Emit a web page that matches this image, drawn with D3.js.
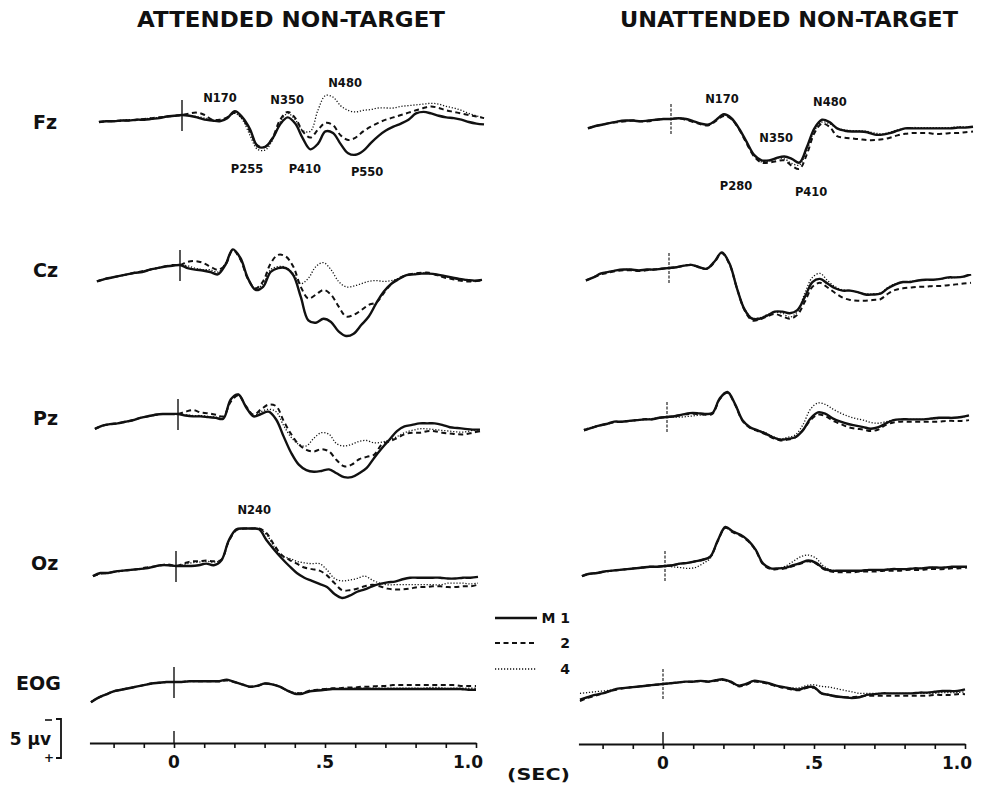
<!DOCTYPE html>
<html>
<head>
<meta charset="utf-8">
<script src="https://cdn.jsdelivr.net/npm/d3@7/dist/d3.min.js"></script>
<style>
  body { margin: 0; background: #fff; }
  text { font-family: "DejaVu Sans", "Liberation Sans", sans-serif; font-weight: bold; fill: #111; }
</style>
</head>
<body>
<svg id="chart" width="981" height="786"></svg>
<script>
// Sample times (s) relative to stimulus onset
const time = [-0.275, -0.25, -0.225, -0.2, -0.175, -0.15, -0.125, -0.1, -0.075, -0.05, -0.025, 0,
  0.025, 0.05, 0.075, 0.1, 0.125, 0.15, 0.175, 0.2, 0.225, 0.25,
  0.275, 0.3, 0.325, 0.35, 0.375, 0.4, 0.425, 0.45, 0.475, 0.5,
  0.525, 0.55, 0.575, 0.6, 0.625, 0.65, 0.675, 0.7, 0.725, 0.75,
  0.775, 0.8, 0.825, 0.85, 0.875, 0.9, 0.925, 0.95, 0.975, 1.0];

// Amplitudes in µV (negative = up). Attended non-target.
const fzAttM1 = [0.9, 0.8, 0.8, 0.7, 0.7, 0.6, 0.6, 0.5, 0.4, 0.2, 0.1, 0.0,
  0.1, 0.3, 0.6, 0.7, 0.8, 0.4, -0.5, 0.3, 1.8, 4.0,
  4.1, 3.0, 1.2, 0.3, 1.1, 3.0, 4.4, 3.7, 2.1, 2.3,
  3.7, 4.9, 5.1, 4.6, 3.6, 2.7, 2.0, 1.5, 1.1, 0.6,
  -0.2, -0.4, -0.2, 0.1, 0.3, 0.4, 0.6, 0.9, 1.1, 1.2];
const fzAttM2 = [0.9, 0.8, 0.8, 0.7, 0.7, 0.6, 0.5, 0.4, 0.3, 0.2, 0.1, 0.0,
  -0.2, -0.3, 0.0, 0.6, 0.6, 0.3, -0.3, 0.4, 2.1, 3.9,
  4.1, 2.9, 0.6, -0.4, 0.4, 2.1, 2.9, 1.9, 1.0, 1.3,
  2.6, 3.2, 2.9, 2.1, 1.5, 1.0, 0.6, 0.3, 0.0, -0.3,
  -0.6, -0.9, -1.1, -0.9, -0.6, -0.4, -0.2, 0.0, 0.2, 0.4];
const fzAttM4 = [0.9, 0.8, 0.8, 0.7, 0.6, 0.6, 0.5, 0.4, 0.3, 0.2, 0.1, 0.0,
  0.1, 0.2, 0.4, 0.6, 0.8, 0.3, -0.2, 0.6, 2.6, 4.4,
  4.5, 3.2, 0.9, -0.2, 0.6, 2.0, 2.1, -0.6, -2.5, -2.3,
  -1.2, -0.6, -0.4, -0.6, -0.7, -0.9, -0.9, -0.9, -1.1, -1.2,
  -1.3, -1.4, -1.5, -1.4, -1.1, -0.9, -0.6, -0.2, 0.1, 0.4];

const czAttM1 = [2.1, 1.8, 1.6, 1.4, 1.2, 1.0, 0.9, 0.6, 0.4, 0.2, 0.1, 0.0,
  0.4, 0.6, 0.7, 0.9, 1.2, 0.0, -2.0, -0.9, 1.7, 3.2,
  2.8, 0.9, 0.4, 0.4, 1.3, 4.1, 7.1, 7.4, 6.9, 7.3,
  8.5, 9.1, 8.8, 7.7, 6.6, 4.9, 3.4, 2.4, 1.8, 1.3,
  1.2, 1.1, 1.1, 1.2, 1.4, 1.6, 1.8, 1.9, 2.0, 1.9];
const czAttM2 = [2.1, 1.8, 1.6, 1.4, 1.2, 1.0, 0.8, 0.6, 0.4, 0.2, 0.0, 0.0,
  -0.4, -0.5, -0.3, 0.2, 0.6, 0.0, -1.9, -0.7, 1.8, 3.0,
  2.1, -0.2, -1.3, -1.1, 0.2, 2.8, 4.3, 3.8, 3.2, 3.8,
  5.3, 6.6, 6.4, 5.8, 5.1, 4.8, 3.6, 2.4, 1.7, 1.3,
  1.1, 1.0, 1.0, 1.3, 1.6, 1.8, 2.0, 2.1, 2.1, 2.0];
const czAttM4 = [2.1, 1.8, 1.6, 1.4, 1.2, 1.0, 0.9, 0.6, 0.4, 0.2, 0.1, 0.0,
  0.1, 0.4, 0.6, 0.6, 0.9, -0.2, -1.9, -0.7, 1.8, 3.0,
  2.4, 0.6, 0.2, 0.3, 1.1, 2.4, 1.7, 0.2, -0.3, 0.6,
  2.1, 2.8, 2.7, 2.4, 2.1, 2.0, 2.1, 2.0, 1.7, 1.3,
  1.1, 1.0, 1.1, 1.3, 1.5, 1.7, 1.9, 2.0, 2.1, 2.0];

const pzAttM1 = [1.9, 1.5, 1.3, 1.2, 1.0, 0.8, 0.5, 0.3, 0.1, 0.0, 0.0, 0.0,
  0.2, 0.3, 0.3, 0.4, 0.5, 0.6, -1.9, -2.5, -0.9, 0.3,
  0.0, -0.3, 0.7, 2.9, 5.0, 6.5, 7.2, 7.4, 7.3, 7.1,
  7.6, 8.1, 8.1, 7.6, 6.9, 5.6, 4.4, 3.3, 2.2, 1.6,
  1.4, 1.2, 1.2, 1.2, 1.4, 1.7, 1.8, 1.9, 2.0, 2.0];
const pzAttM2 = [1.9, 1.5, 1.3, 1.2, 1.0, 0.8, 0.5, 0.3, 0.1, 0.0, 0.0, 0.0,
  -0.3, -0.5, -0.2, -0.1, 0.1, 0.3, -1.6, -2.4, -1.0, 0.1,
  -0.6, -1.2, -1.0, 0.9, 2.6, 3.9, 4.6, 4.8, 4.5, 4.8,
  5.9, 6.7, 6.5, 5.8, 5.5, 5.2, 3.9, 3.5, 3.1, 2.6,
  2.4, 2.4, 2.2, 2.2, 2.4, 2.5, 2.6, 2.6, 2.4, 2.2];
const pzAttM4 = [1.9, 1.5, 1.3, 1.2, 1.0, 0.8, 0.5, 0.3, 0.1, 0.0, 0.0, 0.0,
  0.1, 0.2, 0.2, 0.3, 0.4, 0.5, -1.8, -2.5, -1.0, 0.2,
  -0.3, -0.6, -0.3, 1.5, 3.0, 3.9, 4.1, 3.1, 2.4, 2.6,
  3.8, 4.1, 3.9, 3.5, 3.4, 3.7, 3.6, 3.3, 2.9, 2.4,
  2.1, 1.9, 1.9, 2.0, 2.1, 2.2, 2.3, 2.3, 2.1, 2.0];

const ozAttM1 = [1.3, 0.9, 0.9, 0.7, 0.6, 0.5, 0.4, 0.3, 0.1, -0.1, -0.1, 0.0,
  0.0, 0.0, -0.1, -0.3, -0.1, -0.7, -3.3, -4.7, -4.8, -4.8,
  -4.7, -3.3, -2.1, -1.0, 0.0, 0.9, 1.5, 1.9, 2.3, 2.7,
  3.6, 4.1, 3.8, 3.3, 3.0, 2.6, 2.3, 2.1, 2.0, 1.7,
  1.5, 1.5, 1.5, 1.5, 1.5, 1.6, 1.6, 1.5, 1.5, 1.4];
const ozAttM2 = [1.3, 1.0, 0.9, 0.7, 0.6, 0.5, 0.4, 0.2, 0.1, -0.1, -0.2, 0.0,
  -0.3, -0.6, -0.6, -0.7, -0.6, -0.8, -3.2, -4.6, -4.8, -4.8,
  -4.8, -4.2, -2.7, -1.4, -0.8, -0.3, 0.2, 0.4, 0.6, 1.2,
  2.2, 3.1, 3.1, 2.9, 2.6, 2.4, 2.6, 2.9, 3.0, 3.0,
  2.9, 2.7, 2.7, 2.6, 2.6, 2.7, 2.7, 2.6, 2.6, 2.4];
const ozAttM4 = [1.3, 0.9, 0.9, 0.7, 0.6, 0.5, 0.4, 0.3, 0.1, -0.1, -0.1, 0.0,
  -0.2, -0.4, -0.5, -0.6, -0.5, -0.8, -3.2, -4.6, -4.8, -4.8,
  -4.8, -4.0, -2.5, -1.3, -1.0, -0.6, -0.4, -0.3, -0.3, 0.5,
  1.6, 1.9, 1.8, 1.6, 1.3, 1.8, 2.2, 2.4, 2.4, 2.4,
  2.4, 2.4, 2.4, 2.4, 2.4, 2.2, 2.2, 2.2, 2.3, 2.2];

const eogAttM1 = [2.6, 2.0, 1.6, 1.2, 1.0, 0.8, 0.6, 0.4, 0.2, 0.1, 0.0, 0.0,
  0.0, -0.1, -0.1, -0.1, -0.1, -0.1, -0.3, 0.0, 0.3, 0.6,
  0.5, 0.2, 0.3, 0.6, 1.1, 1.5, 1.5, 1.2, 1.1, 1.0,
  0.9, 0.9, 0.9, 0.9, 0.9, 0.9, 0.9, 0.9, 0.9, 0.9,
  0.9, 0.9, 0.9, 0.9, 0.9, 0.9, 0.9, 0.9, 1.0, 1.0];
const eogAttM2 = [2.6, 2.0, 1.6, 1.2, 1.0, 0.8, 0.6, 0.4, 0.2, 0.1, 0.0, 0.0,
  0.0, -0.1, -0.1, -0.1, -0.1, -0.1, -0.2, 0.0, 0.3, 0.6,
  0.5, 0.2, 0.3, 0.6, 1.1, 1.4, 1.4, 1.1, 1.0, 0.9,
  0.8, 0.8, 0.7, 0.7, 0.6, 0.6, 0.5, 0.5, 0.4, 0.4,
  0.4, 0.4, 0.4, 0.4, 0.4, 0.4, 0.4, 0.5, 0.5, 0.5];
const eogAttM4 = [2.5, 2.0, 1.6, 1.2, 1.0, 0.8, 0.6, 0.4, 0.2, 0.1, 0.0, 0.0,
  0.0, -0.1, -0.1, -0.1, -0.1, -0.1, -0.2, 0.0, 0.3, 0.6,
  0.5, 0.2, 0.3, 0.6, 1.1, 1.4, 1.4, 1.2, 1.0, 0.9,
  0.9, 0.9, 0.8, 0.8, 0.8, 0.8, 0.8, 0.8, 0.8, 0.8,
  0.8, 0.8, 0.8, 0.7, 0.7, 0.8, 0.8, 0.8, 0.8, 0.8];

// Unattended non-target.
const fzUnM1 = [1.2, 0.9, 0.7, 0.5, 0.3, 0.2, 0.2, 0.3, 0.2, 0.1, 0.0, 0.0,
  -0.1, 0.0, 0.3, 0.6, 0.7, 0.1, -0.6, -0.1, 1.2, 2.9,
  4.6, 5.3, 5.3, 5.0, 4.8, 5.1, 5.6, 3.6, 1.2, 0.1,
  0.4, 1.2, 1.5, 1.6, 1.6, 1.7, 2.0, 2.0, 1.8, 1.5,
  1.2, 1.2, 1.2, 1.2, 1.2, 1.2, 1.2, 1.1, 1.1, 1.0];
const fzUnM2 = [1.2, 0.9, 0.7, 0.5, 0.4, 0.3, 0.2, 0.3, 0.3, 0.1, 0.0, 0.0,
  -0.1, 0.1, 0.4, 0.7, 0.8, 0.2, -0.4, 0.0, 1.3, 3.1,
  4.8, 5.6, 5.6, 5.4, 5.3, 6.0, 6.4, 4.5, 1.8, 0.6,
  1.0, 2.2, 2.4, 2.5, 2.6, 2.7, 2.7, 2.6, 2.4, 2.1,
  1.9, 1.8, 1.8, 1.8, 1.9, 1.9, 1.8, 1.8, 1.7, 1.6];
const fzUnM4 = [1.1, 0.9, 0.7, 0.5, 0.3, 0.2, 0.2, 0.2, 0.2, 0.1, 0.0, 0.0,
  -0.1, 0.0, 0.3, 0.6, 0.7, 0.1, -0.5, 0.0, 1.3, 3.0,
  4.7, 5.5, 5.4, 5.0, 5.1, 5.7, 5.9, 4.0, 1.5, 0.4,
  0.6, 1.2, 1.4, 1.5, 1.5, 1.6, 1.8, 1.9, 1.7, 1.4,
  1.2, 1.1, 1.1, 1.1, 1.1, 1.1, 1.1, 1.0, 1.0, 1.0];

const czUnM1 = [1.6, 1.2, 0.7, 0.5, 0.3, 0.2, 0.2, 0.3, 0.2, 0.2, 0.1, 0.0,
  -0.1, -0.3, -0.4, -0.1, 0.1, -0.8, -2.0, -0.6, 2.6, 5.3,
  6.5, 6.5, 6.1, 5.6, 5.6, 5.8, 5.4, 3.7, 1.8, 1.4,
  2.0, 2.6, 2.9, 2.9, 3.1, 3.4, 3.4, 3.3, 2.6, 2.1,
  1.8, 1.8, 1.6, 1.5, 1.5, 1.4, 1.2, 1.2, 1.1, 0.8];
const czUnM2 = [1.6, 1.2, 0.8, 0.6, 0.4, 0.3, 0.3, 0.4, 0.3, 0.2, 0.1, 0.0,
  -0.1, -0.3, -0.4, -0.1, 0.1, -0.7, -1.9, -0.5, 2.6, 5.4,
  6.7, 6.6, 6.2, 5.9, 6.2, 6.5, 6.0, 4.3, 2.4, 1.9,
  2.5, 3.2, 3.8, 4.1, 4.2, 4.2, 4.1, 4.0, 3.3, 2.8,
  2.6, 2.5, 2.4, 2.4, 2.3, 2.3, 2.2, 2.1, 2.0, 1.9];
const czUnM4 = [1.6, 1.2, 0.7, 0.5, 0.3, 0.2, 0.2, 0.3, 0.2, 0.2, 0.1, 0.0,
  -0.1, -0.3, -0.4, -0.1, 0.1, -0.8, -2.0, -0.6, 2.5, 5.2,
  6.4, 6.4, 6.0, 5.7, 5.8, 6.3, 5.6, 3.2, 1.2, 0.7,
  1.6, 2.4, 2.8, 2.9, 3.1, 3.3, 3.3, 3.2, 2.5, 2.0,
  1.8, 1.7, 1.6, 1.5, 1.5, 1.4, 1.3, 1.2, 1.1, 0.9];

const pzUnM1 = [1.7, 1.4, 1.1, 0.9, 0.6, 0.6, 0.5, 0.4, 0.3, 0.3, 0.1, 0.0,
  -0.1, -0.3, -0.5, -0.5, -0.4, -0.5, -2.4, -3.2, -1.7, 0.4,
  1.3, 1.7, 2.1, 2.6, 2.9, 2.8, 2.6, 1.7, 0.2, -0.6,
  -0.4, 0.2, 0.6, 0.9, 1.1, 1.3, 1.5, 1.3, 0.8, 0.4,
  0.3, 0.3, 0.3, 0.3, 0.2, 0.1, 0.1, 0.1, 0.0, -0.2];
const pzUnM2 = [1.7, 1.4, 1.1, 0.9, 0.7, 0.6, 0.5, 0.4, 0.3, 0.3, 0.1, 0.0,
  -0.1, -0.3, -0.4, -0.4, -0.3, -0.4, -2.3, -3.1, -1.6, 0.5,
  1.4, 1.8, 2.2, 2.7, 3.0, 2.9, 2.6, 1.7, 0.4, -0.3,
  -0.1, 0.5, 0.9, 1.3, 1.5, 1.6, 1.8, 1.6, 1.0, 0.7,
  0.6, 0.6, 0.6, 0.6, 0.6, 0.6, 0.5, 0.5, 0.5, 0.4];
const pzUnM4 = [1.6, 1.3, 1.1, 0.9, 0.6, 0.6, 0.5, 0.4, 0.3, 0.2, 0.1, 0.0,
  0.0, 0.0, -0.1, -0.2, -0.3, -0.5, -2.4, -3.2, -1.7, 0.4,
  1.3, 1.7, 2.0, 2.5, 2.8, 2.6, 2.3, 1.0, -1.0, -1.8,
  -1.6, -1.0, -0.5, -0.1, 0.2, 0.4, 0.7, 0.8, 0.6, 0.4,
  0.3, 0.3, 0.3, 0.3, 0.2, 0.2, 0.1, 0.1, 0.0, -0.1];

const ozUnM1 = [1.3, 1.0, 0.9, 0.7, 0.6, 0.5, 0.4, 0.3, 0.2, 0.1, 0.1, 0.0,
  -0.1, -0.3, -0.4, -0.6, -0.8, -1.2, -3.3, -5.0, -4.4, -4.0,
  -3.3, -2.1, -0.3, 0.3, 0.3, 0.2, -0.1, -0.4, -0.7, -0.4,
  0.3, 0.6, 0.6, 0.6, 0.6, 0.6, 0.5, 0.5, 0.5, 0.4,
  0.4, 0.4, 0.3, 0.3, 0.2, 0.2, 0.2, 0.1, 0.1, 0.1];
const ozUnM2 = [1.3, 1.0, 0.9, 0.7, 0.6, 0.5, 0.4, 0.3, 0.2, 0.1, 0.1, 0.0,
  -0.1, -0.3, -0.4, -0.6, -0.8, -1.2, -3.2, -4.9, -4.3, -3.9,
  -3.2, -2.0, -0.2, 0.4, 0.4, 0.3, 0.0, -0.3, -0.6, -0.3,
  0.4, 0.7, 0.8, 0.8, 0.8, 0.7, 0.7, 0.7, 0.6, 0.6,
  0.6, 0.5, 0.5, 0.5, 0.4, 0.4, 0.4, 0.3, 0.3, 0.2];
const ozUnM4 = [1.3, 1.0, 0.9, 0.7, 0.6, 0.5, 0.4, 0.3, 0.2, 0.1, 0.1, 0.0,
  0.1, 0.2, 0.3, 0.2, -0.3, -1.0, -3.2, -4.9, -4.4, -4.0,
  -3.3, -2.1, -0.3, 0.3, 0.3, 0.0, -0.6, -1.2, -1.4, -1.0,
  0.0, 0.5, 0.6, 0.6, 0.6, 0.6, 0.5, 0.5, 0.5, 0.4,
  0.4, 0.4, 0.3, 0.3, 0.2, 0.2, 0.2, 0.1, 0.1, 0.1];

const eogUnM1 = [2.0, 1.7, 1.4, 1.2, 0.9, 0.6, 0.5, 0.4, 0.3, 0.2, 0.1, 0.0,
  -0.1, -0.2, -0.3, -0.3, -0.4, -0.3, -0.5, -0.6, -0.3, 0.2,
  0.0, -0.4, -0.3, -0.1, 0.2, 0.4, 0.6, 0.7, 0.4, 0.4,
  1.2, 1.4, 1.6, 1.7, 1.8, 1.7, 1.4, 1.3, 1.2, 1.2,
  1.2, 1.2, 1.2, 1.1, 1.1, 1.0, 0.9, 0.9, 0.9, 0.7];
const eogUnM2 = [2.2, 1.8, 1.5, 1.2, 0.9, 0.7, 0.5, 0.4, 0.3, 0.2, 0.1, 0.0,
  -0.1, -0.2, -0.3, -0.3, -0.4, -0.3, -0.4, -0.5, -0.2, 0.3,
  0.1, -0.3, -0.2, 0.0, 0.3, 0.5, 0.7, 0.8, 0.5, 0.5,
  1.2, 1.4, 1.6, 1.7, 1.7, 1.6, 1.5, 1.5, 1.5, 1.5,
  1.5, 1.5, 1.5, 1.5, 1.5, 1.4, 1.4, 1.4, 1.3, 1.3];
const eogUnM4 = [1.2, 1.1, 1.0, 0.9, 0.8, 0.6, 0.5, 0.4, 0.3, 0.2, 0.1, 0.0,
  -0.1, -0.2, -0.3, -0.3, -0.4, -0.3, -0.4, -0.5, -0.2, 0.2,
  0.0, -0.4, -0.3, -0.1, 0.2, 0.4, 0.5, 0.5, 0.2, 0.1,
  0.3, 0.4, 0.6, 0.8, 1.0, 1.2, 1.2, 1.2, 1.2, 1.2,
  1.2, 1.2, 1.2, 1.2, 1.2, 1.2, 1.1, 1.1, 1.1, 1.0];

const conditions = ["ATTENDED NON-TARGET", "UNATTENDED NON-TARGET"];
const leads = ["Fz", "Cz", "Pz", "Oz", "EOG"];
const groups = ["M 1", "2", "4"];
const axisTicks = [-0.2, -0.1, 0, 0.1, 0.2, 0.3, 0.4, 0.5, 0.6, 0.7, 0.8, 0.9, 1.0];
const axisLabelTimes = [0, 0.5, 1.0];
const axisLabelTexts = ["0", ".5", "1.0"];

// Component annotations: [condition, lead, label, time (s), amplitude (µV)]
const peakNotes = [
  [0, 0, "N170", 0.126, -1.7], [0, 0, "N350", 0.348, -1.4], [0, 0, "N480", 0.54, -3.6],
  [0, 0, "P255", 0.215, 7.4], [0, 0, "P410", 0.407, 7.4], [0, 0, "P550", 0.613, 7.8],
  [1, 0, "N170", 0.169, -2.1], [1, 0, "N480", 0.526, -1.7], [1, 0, "N350", 0.348, 2.9],
  [1, 0, "P280", 0.215, 9.1], [1, 0, "P410", 0.464, 9.9],
  [0, 3, "N240", 0.259, -6.7]
];

// Traces by condition -> lead -> group
const traces = [
  [[fzAttM1, fzAttM2, fzAttM4], [czAttM1, czAttM2, czAttM4], [pzAttM1, pzAttM2, pzAttM4],
   [ozAttM1, ozAttM2, ozAttM4], [eogAttM1, eogAttM2, eogAttM4]],
  [[fzUnM1, fzUnM2, fzUnM4], [czUnM1, czUnM2, czUnM4], [pzUnM1, pzUnM2, pzUnM4],
   [ozUnM1, ozUnM2, ozUnM4], [eogUnM1, eogUnM2, eogUnM4]]
];

// ---- layout ----
const svg = d3.select("#chart");
const SEC = 302;           // px per second
const UV = 7.8;            // px per µV
const colZero = [174, 663];
const rowShift = [8, 6, 4, 2, 0];
const baseY = [[115, 265, 414, 566, 682], [119, 268, 417, 566, 684]];
const axisY = [743, 744];
const groupStyle = [
  { width: 2.4, dash: null },
  { width: 2.0, dash: "5,3.5" },
  { width: 1.3, dash: "1.2,1.8" }
];

function panelScales(c, r) {
  const z = colZero[c] + rowShift[r];
  const x = d3.scaleLinear().domain([0, 1]).range([z, z + SEC]);
  const y = d3.scaleLinear().domain([0, 5]).range([baseY[c][r], baseY[c][r] + 5 * UV]);
  return { x, y };
}

// titles
const titleX = [[137, 445], [620, 958]];
conditions.forEach((t, c) => {
  svg.append("text")
    .attr("x", titleX[c][0]).attr("y", 27)
    .attr("font-size", 21)
    .attr("textLength", titleX[c][1] - titleX[c][0])
    .attr("lengthAdjust", "spacingAndGlyphs")
    .text(t);
});

// lead labels
const leadLabelX = [33, 33, 33, 31, 16];
const leadLabelY = [129, 277, 425, 570, 690];
leads.forEach((l, r) => {
  svg.append("text")
    .attr("x", leadLabelX[r]).attr("y", leadLabelY[r])
    .attr("font-size", 19)
    .text(l);
});

// waveforms
traces.forEach((col, c) => {
  col.forEach((set, r) => {
    const { x, y } = panelScales(c, r);
    const g = svg.append("g");
    // stimulus-onset marker
    g.append("line")
      .attr("x1", x(0)).attr("x2", x(0))
      .attr("y1", y(0) - 15).attr("y2", y(0) + 16)
      .attr("stroke", "#111")
      .attr("stroke-width", c === 0 ? 1.4 : 1.1)
      .attr("stroke-dasharray", c === 0 ? null : "3,1.5");
    const line = d3.line()
      .x((d, i) => x(time[i]))
      .y(d => y(d))
      .curve(d3.curveCatmullRom.alpha(0.5));
    [2, 1, 0].forEach(k => {
      g.append("path")
        .datum(set[k])
        .attr("d", line)
        .attr("fill", "none")
        .attr("stroke", "#111")
        .attr("stroke-width", groupStyle[k].width)
        .attr("stroke-linejoin", "round")
        .attr("stroke-dasharray", groupStyle[k].dash);
    });
  });
});

// component annotations
peakNotes.forEach(([c, r, label, t, v]) => {
  const { x, y } = panelScales(c, r);
  svg.append("text")
    .attr("x", x(t)).attr("y", y(v))
    .attr("text-anchor", "middle")
    .attr("font-size", 11.5)
    .text(label);
});

// time axes
[0, 1].forEach(c => {
  const x = d3.scaleLinear().domain([-0.28, 1.0]).range([colZero[c] - 0.28 * SEC, colZero[c] + SEC]);
  const ax = svg.append("g")
    .attr("transform", `translate(0,${axisY[c]})`)
    .call(d3.axisBottom(x).tickValues(axisTicks).tickSize(5).tickSizeOuter(0).tickFormat(""));
  ax.select(".domain").attr("stroke", "#111").attr("stroke-width", 1.8);
  ax.selectAll(".tick line").attr("stroke", "#111").attr("stroke-width", 1.6);
  svg.append("line")
    .attr("x1", x(0)).attr("x2", x(0))
    .attr("y1", axisY[c] - 12).attr("y2", axisY[c])
    .attr("stroke", "#111").attr("stroke-width", 1.4);
  axisLabelTimes.forEach((t, i) => {
    svg.append("text")
      .attr("x", x(t) + (t === 1 ? -8 : 0)).attr("y", axisY[c] + 25)
      .attr("text-anchor", "middle")
      .attr("font-size", 17)
      .text(axisLabelTexts[i]);
  });
});
svg.append("text")
  .attr("x", 507).attr("y", 780)
  .attr("font-size", 15)
  .attr("textLength", 63).attr("lengthAdjust", "spacingAndGlyphs")
  .text("(SEC)");

// calibration bar: 5 µV, negative up
const cal = d3.scaleLinear().domain([0, 5]).range([719, 719 + 5 * UV]);
svg.append("path")
  .attr("d", `M56,${cal(0)}H61V${cal(5)}H56`)
  .attr("fill", "none").attr("stroke", "#111").attr("stroke-width", 1.8);
svg.append("text").attr("x", 51).attr("y", 745).attr("text-anchor", "end")
  .attr("font-size", 17).text("5 µv");
svg.append("line").attr("x1", 45).attr("x2", 52).attr("y1", cal(0) + 1).attr("y2", cal(0) + 1)
  .attr("stroke", "#111").attr("stroke-width", 1.6);
svg.append("text").attr("x", 49).attr("y", cal(5) + 4).attr("text-anchor", "middle")
  .attr("font-size", 12).text("+");

// legend
const legendY = [618, 643, 669];
groups.forEach((gname, k) => {
  svg.append("line")
    .attr("x1", 495).attr("x2", 537)
    .attr("y1", legendY[k]).attr("y2", legendY[k])
    .attr("stroke", "#111")
    .attr("stroke-width", groupStyle[k].width)
    .attr("stroke-dasharray", groupStyle[k].dash);
  svg.append("text")
    .attr("x", 570).attr("y", legendY[k] + 5)
    .attr("text-anchor", "end")
    .attr("font-size", 14)
    .text(gname);
});
</script>
</body>
</html>
